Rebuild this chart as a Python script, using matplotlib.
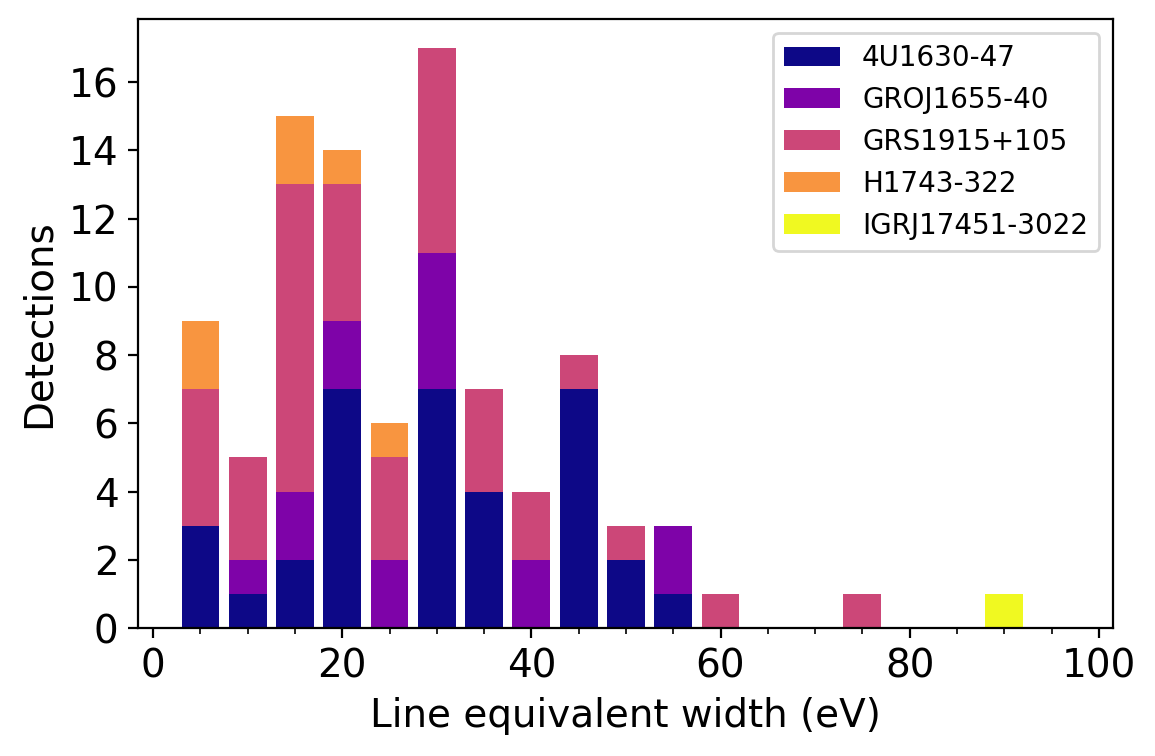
import matplotlib
matplotlib.use("Agg")
import matplotlib.pyplot as plt
import numpy as np

bin_centers = [5, 10, 15, 20, 25, 30, 35, 40, 45, 50, 55, 60, 65, 70, 75, 80, 85, 90, 95]
sources = ["4U1630-47", "GROJ1655-40", "GRS1915+105", "H1743-322", "IGRJ17451-3022"]
c_4u    = [3, 1, 2, 7, 0, 7, 4, 0, 7, 2, 1, 0, 0, 0, 0, 0, 0, 0, 0]
c_groj  = [0, 1, 2, 2, 2, 4, 0, 2, 0, 0, 2, 0, 0, 0, 0, 0, 0, 0, 0]
c_grs   = [4, 3, 9, 4, 3, 6, 3, 2, 1, 1, 0, 1, 0, 0, 1, 0, 0, 0, 0]
c_h1743 = [2, 0, 2, 1, 1, 0, 0, 0, 0, 0, 0, 0, 0, 0, 0, 0, 0, 0, 0]
c_igr   = [0, 0, 0, 0, 0, 0, 0, 0, 0, 0, 0, 0, 0, 0, 0, 0, 0, 1, 0]
series = [c_4u, c_groj, c_grs, c_h1743, c_igr]

cmap = plt.get_cmap("plasma")
colors = [cmap(i / 4) for i in range(5)]

fig = plt.figure(figsize=(5.775, 3.78), dpi=200)
ax = fig.add_axes([138/1155, 1 - 628/756, (1113-138)/1155, (628-19)/756])

bottom = np.zeros(len(bin_centers))
for name, vals, col in zip(sources, series, colors):
    v = np.array(vals, dtype=float)
    ax.bar(bin_centers, v, width=4, bottom=bottom, color=col, label=name)
    bottom += v

ax.set_xlim(-1.6, 101.5)
ax.set_ylim(0, 17.85)
ax.set_xticks([0, 20, 40, 60, 80, 100])
ax.set_xticks(np.arange(5, 100, 5), minor=True)
ax.set_yticks(np.arange(0, 17, 2))
ax.tick_params(axis="both", labelsize=14)
ax.set_xlabel("Line equivalent width (eV)", fontsize=14)
ax.set_ylabel("Detections", fontsize=14)
ax.legend(fontsize=10, loc="upper right")

fig.savefig("out.png", dpi=200)
